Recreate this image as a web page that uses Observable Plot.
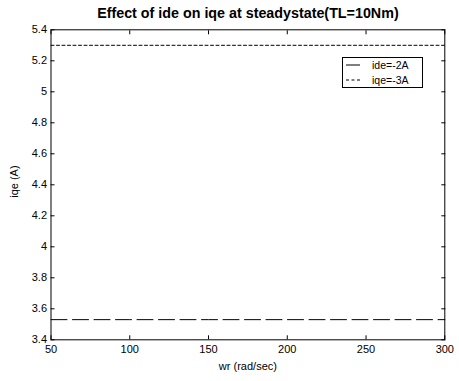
<!DOCTYPE html>
<html>
<head>
<meta charset="utf-8">
<script src="https://cdn.jsdelivr.net/npm/d3@7"></script>
<script src="https://cdn.jsdelivr.net/npm/@observablehq/plot@0.6"></script>
<style>
  html, body { margin: 0; padding: 0; background: #fff; }
  #wrap { position: relative; width: 459px; height: 381px; font-family: "Liberation Sans", Arial, sans-serif; }
  #legend { position: absolute; left: 342px; top: 57px; width: 81px; height: 31px; border: 1px solid #000; background: #fff; box-sizing: border-box; }
</style>
</head>
<body>
<div id="wrap"><div id="legend"></div></div>
<script>
const title = "Effect of ide on iqe at steadystate(TL=10Nm)";
const xLabel = "wr (rad/sec)";
const yLabel = "iqe (A)";
const wr = [50, 100, 150, 200, 250, 300];
const seriesNames = ["ide=-2A", "iqe=-3A"];
const iqeA = [3.53, 3.53, 3.53, 3.53, 3.53, 3.53];   // dashed line
const iqeB = [5.30, 5.30, 5.30, 5.30, 5.30, 5.30];   // dotted line
const xTicks = [50, 100, 150, 200, 250, 300];
const yTicks = [3.4, 3.6, 3.8, 4, 4.2, 4.4, 4.6, 4.8, 5, 5.2, 5.4];

const dataA = wr.map((x, i) => ({x, y: iqeA[i]}));
const dataB = wr.map((x, i) => ({x, y: iqeB[i]}));
const fmt = d => String(+d.toFixed(1));

const chart = Plot.plot({
  width: 459,
  height: 381,
  marginLeft: 50.5,
  marginRight: 14.7,
  marginTop: 29.3,
  marginBottom: 41.7,
  style: {fontFamily: "Liberation Sans, Arial, sans-serif", fontSize: "11px", color: "#000", background: "#fff"},
  x: {domain: [50, 300]},
  y: {domain: [3.4, 5.4]},
  marks: [
    Plot.frame({stroke: "#000"}),
    Plot.axisX({anchor: "bottom", ticks: xTicks, tickSize: -4, text: null, label: null}),
    Plot.axisX({anchor: "top", ticks: xTicks, tickSize: -4, text: null, label: null}),
    Plot.axisY({anchor: "left", ticks: yTicks, tickSize: -4, text: null, label: null}),
    Plot.axisY({anchor: "right", ticks: yTicks, tickSize: -4, text: null, label: null}),
    Plot.axisX({anchor: "bottom", ticks: xTicks, tickSize: 0, tickPadding: 5, tickFormat: fmt, label: null, fontSize: 11}),
    Plot.axisY({anchor: "left", ticks: yTicks, tickSize: 0, tickPadding: 4, tickFormat: fmt, label: null, fontSize: 11}),
    Plot.line(dataA, {x: "x", y: "y", stroke: "#000", strokeWidth: 1, strokeDasharray: "16,5.5"}),
    Plot.line(dataB, {x: "x", y: "y", stroke: "#000", strokeWidth: 1, strokeDasharray: "3,2.5"}),
    Plot.text([title], {frameAnchor: "top", dy: -16, text: d => d, fontSize: 14.3, fontWeight: "bold", lineAnchor: "middle"}),
    Plot.text([xLabel], {frameAnchor: "bottom", dy: 27, text: d => d, fontSize: 11, lineAnchor: "middle"}),
    Plot.text([yLabel], {frameAnchor: "left", dx: -37, dy: 13, rotate: -90, text: d => d, fontSize: 11, lineAnchor: "middle"})
  ]
});
document.getElementById("wrap").prepend(chart);

// legend
const lg = d3.select("#legend").append("svg").attr("width", 79).attr("height", 29)
  .style("display", "block").style("overflow", "visible")
  .style("font-family", "Liberation Sans, Arial, sans-serif").style("font-size", "10.5px");
const dashes = [null, "3,2.5"];
seriesNames.forEach((name, i) => {
  const y = 7 + i * 15;
  lg.append("line").attr("x1", 3).attr("x2", 17).attr("y1", y).attr("y2", y)
    .attr("stroke", "#000").attr("stroke-width", 1).attr("stroke-dasharray", dashes[i]);
  lg.append("text").attr("x", 29).attr("y", y).attr("dy", "0.35em").text(name);
});
</script>
</body>
</html>
